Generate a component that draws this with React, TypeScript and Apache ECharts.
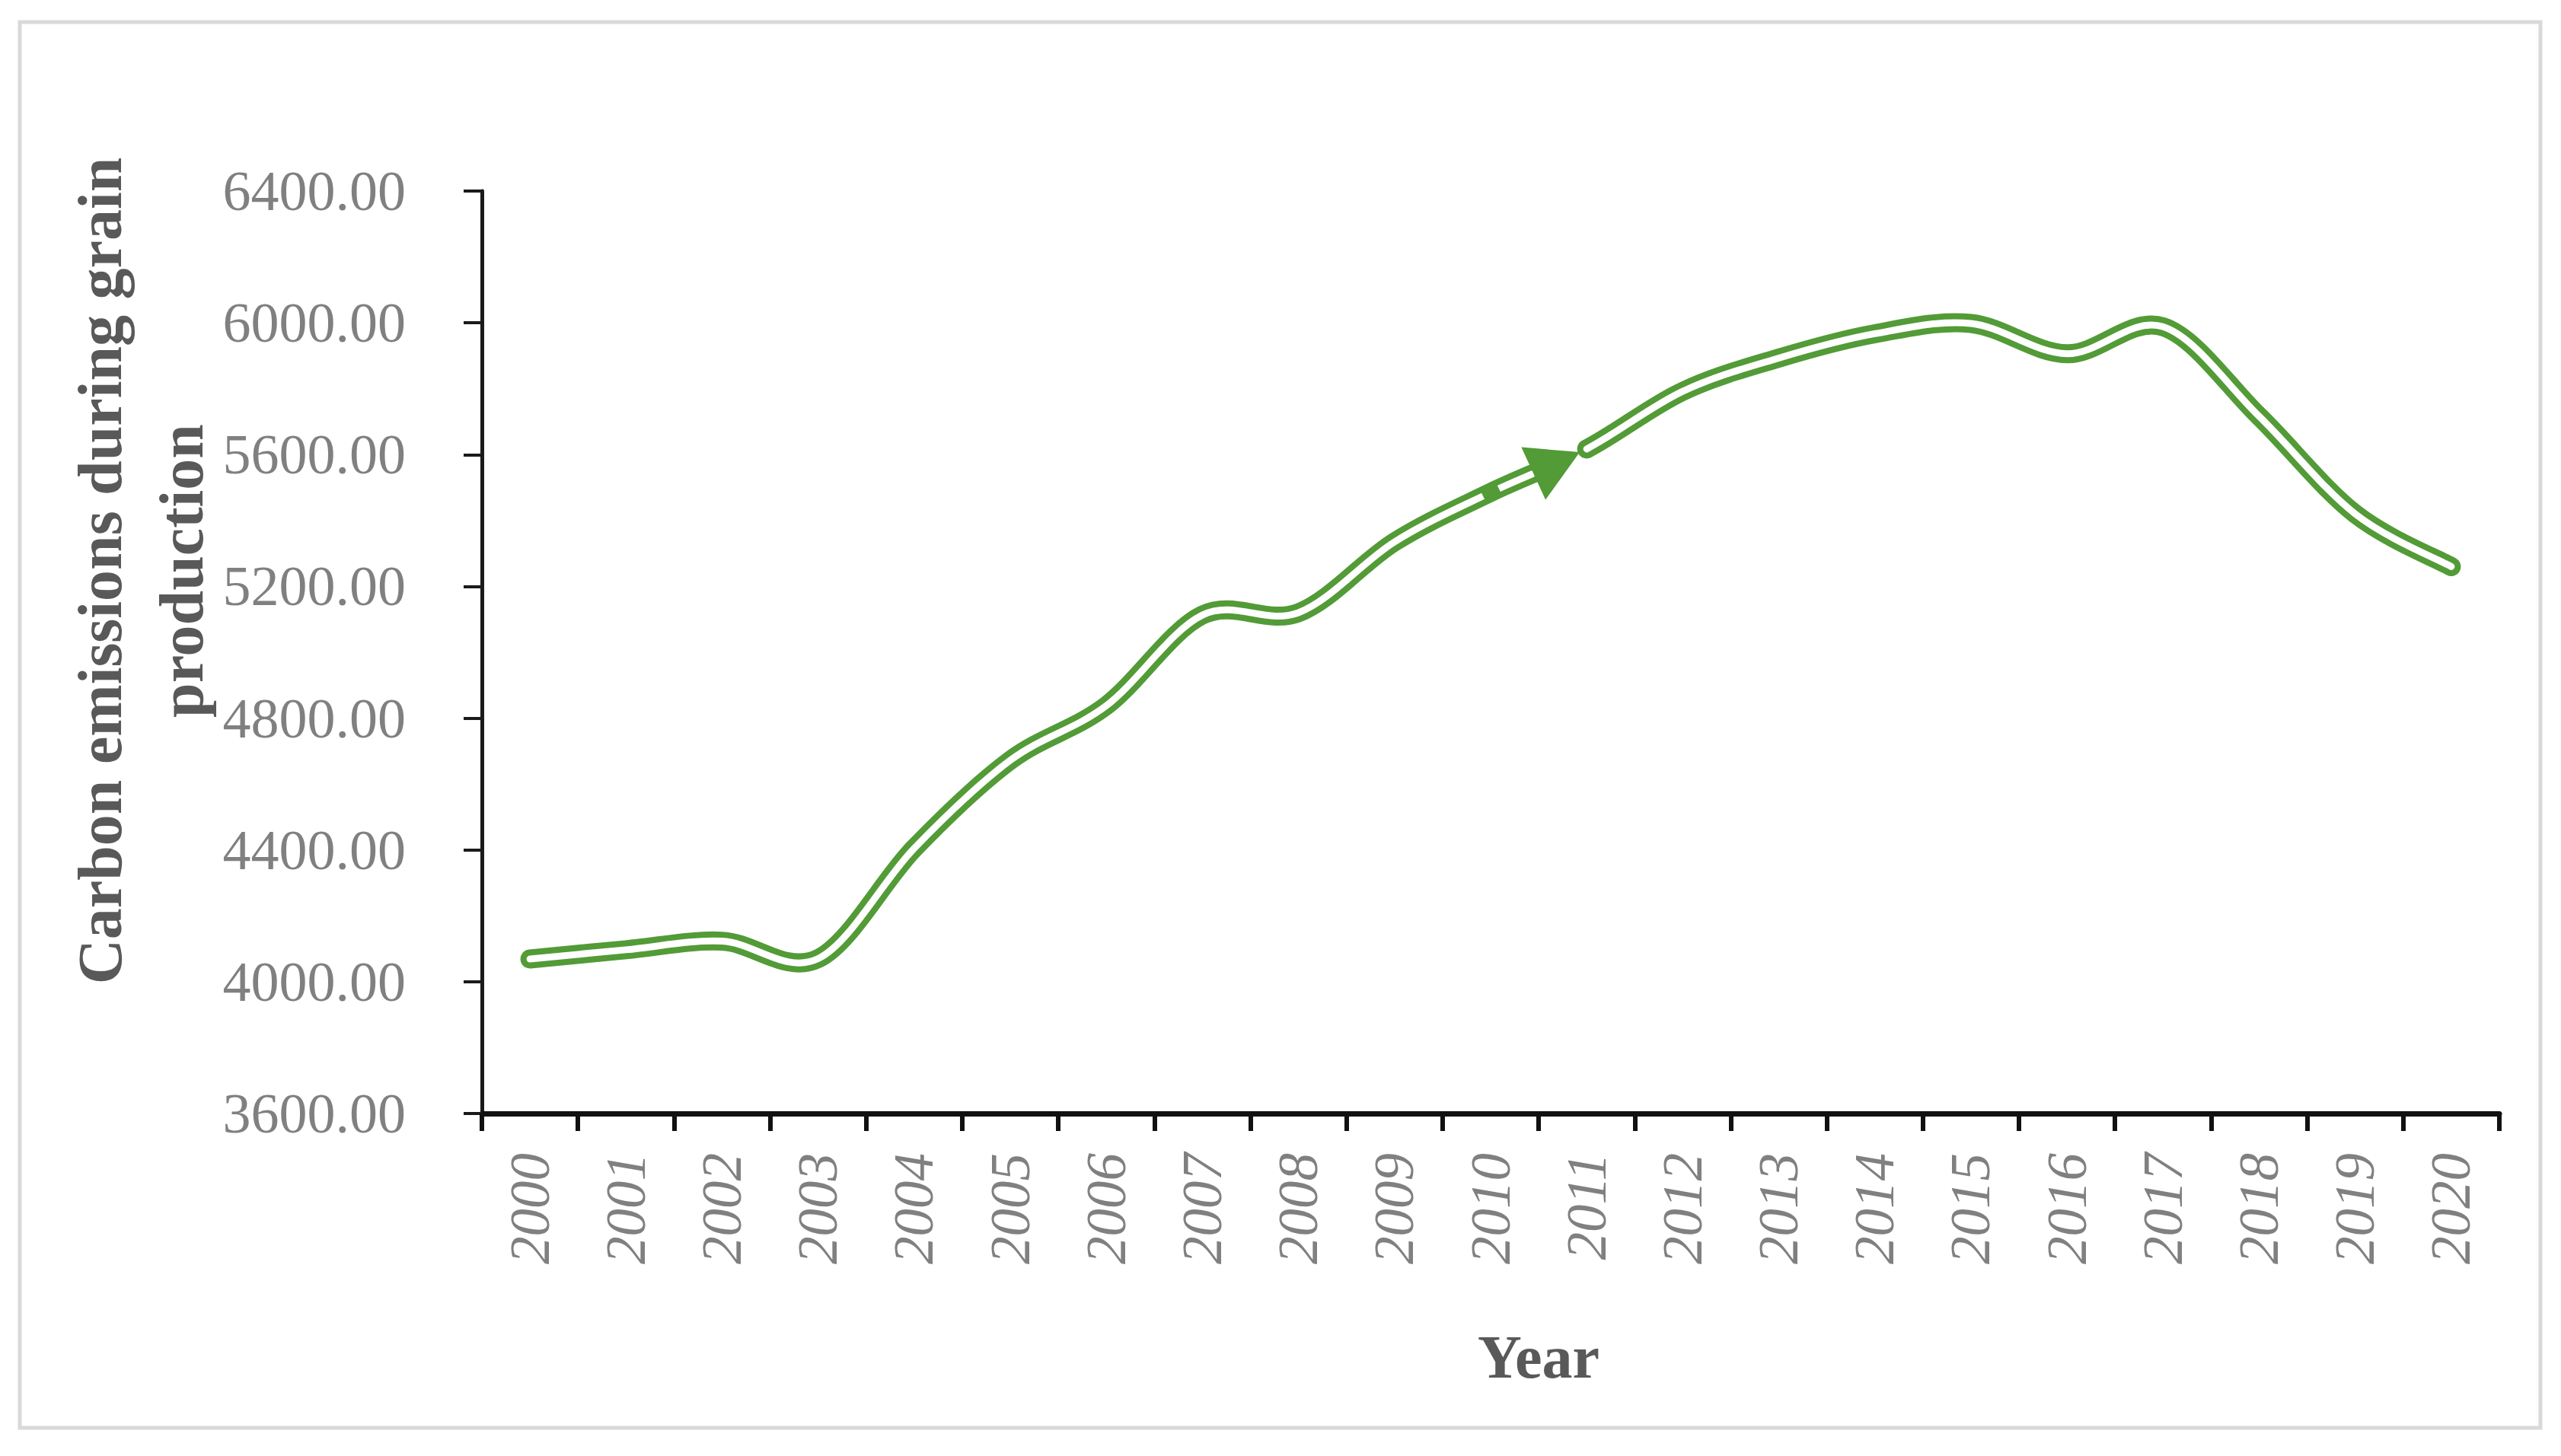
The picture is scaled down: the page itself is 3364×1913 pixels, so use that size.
import React, { useEffect, useRef } from "react";
import * as echarts from "echarts";

const years = ["2000","2001","2002","2003","2004","2005","2006","2007","2008","2009","2010","2011","2012","2013","2014","2015","2016","2017","2018","2019","2020"];
const emissions = [4069, 4097, 4123, 4070, 4405, 4672, 4838, 5113, 5120, 5335, 5485, 5617, 5792, 5893, 5967, 5998, 5906, 5988, 5716, 5420, 5260];
const yMin = 3600;
const yMax = 6400;
const yStep = 400;
const xTitle = "Year";
const yTitle = "Carbon emissions during grain\nproduction";
const arrowSegment = 10; // segment 2010 -> 2011 ends with an arrowhead

const GREEN = "#529b37";
const FONT = "'Liberation Serif', 'DejaVu Serif', serif";

type P = number[];
const lerp = (a: P, b: P, t: number): P => [a[0] + (b[0] - a[0]) * t, a[1] + (b[1] - a[1]) * t];

function bezier(pts: P[]) {
  const n = pts.length;
  const segs: P[][] = [];
  for (let i = 0; i < n - 1; i++) {
    const p0 = pts[i];
    const p1 = pts[i + 1];
    const pm = pts[Math.max(0, i - 1)];
    const pp = pts[Math.min(n - 1, i + 2)];
    const c1 = [p0[0] + (p1[0] - pm[0]) / 6, p0[1] + (p1[1] - pm[1]) / 6];
    const c2 = [p1[0] - (pp[0] - p0[0]) / 6, p1[1] - (pp[1] - p0[1]) / 6];
    segs.push([p0, c1, c2, p1]);
  }
  return segs;
}

function pointAt(s: P[], t: number): P {
  const a = lerp(s[0], s[1], t), b = lerp(s[1], s[2], t), c = lerp(s[2], s[3], t);
  const d = lerp(a, b, t), e = lerp(b, c, t);
  return lerp(d, e, t);
}

function splitFirst(s: P[], t: number): P[] {
  const a = lerp(s[0], s[1], t), b = lerp(s[1], s[2], t), c = lerp(s[2], s[3], t);
  const d = lerp(a, b, t), e = lerp(b, c, t);
  const f = lerp(d, e, t);
  return [s[0], a, d, f];
}

function pathOf(segs: P[][]) {
  if (!segs.length) return "";
  let d = `M${segs[0][0][0]},${segs[0][0][1]}`;
  for (const s of segs) d += ` C${s[1][0]},${s[1][1]} ${s[2][0]},${s[2][1]} ${s[3][0]},${s[3][1]}`;
  return d;
}

function doubleLine(d: string) {
  return [
    { type: "path", shape: { pathData: d }, style: { fill: "none", stroke: GREEN, lineWidth: 25, lineCap: "round", lineJoin: "round" } },
    { type: "path", shape: { pathData: d }, style: { fill: "none", stroke: "#ffffff", lineWidth: 9, lineCap: "round", lineJoin: "round" } },
  ];
}

function renderLine(params: any, api: any) {
  if (params.dataIndex !== 0) return null;
  const pts: P[] = emissions.map((v, i) => api.coord([i, v]));
  const segs = bezier(pts);
  const arrowSeg = segs[arrowSegment];
  const end = arrowSeg[3];
  let t = 1;
  while (t > 0) {
    const q = pointAt(arrowSeg, t);
    if (Math.hypot(end[0] - q[0], end[1] - q[1]) >= 78) break;
    t -= 0.005;
  }
  const cut = splitFirst(arrowSeg, t);
  const B = cut[3];
  const dx = end[0] - B[0], dy = end[1] - B[1];
  const L = Math.hypot(dx, dy);
  const ux = dx / L, uy = dy / L;
  const nx = -uy, ny = ux;
  const tip = [end[0] - ux * 10, end[1] - uy * 10];
  const base = [tip[0] - ux * 67, tip[1] - uy * 67];

  const piece1 = pathOf([...segs.slice(0, arrowSegment), cut]);
  const piece2 = pathOf(segs.slice(arrowSegment + 1));

  // solid patch at the start of the arrowed segment
  const p10 = pts[arrowSegment];
  const pPrev = pts[arrowSegment - 1];
  const pNext = pts[arrowSegment + 1];
  const tx = pNext[0] - pPrev[0], ty = pNext[1] - pPrev[1];
  const tl = Math.hypot(tx, ty);
  const vx = tx / tl, vy = ty / tl;

  return {
    type: "group",
    children: [
      ...doubleLine(piece1),
      ...doubleLine(piece2),
      {
        type: "line",
        shape: { x1: p10[0] - vx * 11, y1: p10[1] - vy * 11, x2: p10[0] + vx * 12, y2: p10[1] + vy * 12 },
        style: { stroke: GREEN, lineWidth: 11, lineCap: "butt" },
      },
      {
        type: "polygon",
        shape: {
          points: [tip, [base[0] + nx * 38, base[1] + ny * 38], [base[0] - nx * 38, base[1] - ny * 38]],
        },
        style: { fill: GREEN },
      },
    ],
  };
}

export default function App() {
  const ref = useRef<HTMLDivElement>(null);
  useEffect(() => {
    if (!ref.current) return;
    const chart = echarts.init(ref.current, null, { renderer: "svg" });
    chart.setOption({
      animation: false,
      backgroundColor: "#ffffff",
      grid: { left: 633, right: 81, top: 251, bottom: 450, containLabel: false },
      xAxis: {
        type: "category",
        data: years,
        boundaryGap: true,
        axisLine: { show: true, lineStyle: { color: "#111111", width: 7 } },
        axisTick: { show: true, interval: 0, alignWithLabel: false, length: 23, lineStyle: { color: "#111111", width: 6 } },
        axisLabel: {
          interval: 0,
          rotate: 90,
          margin: 52,
          color: "#808080",
          fontFamily: FONT,
          fontStyle: "italic",
          fontSize: 73,
        },
        splitLine: { show: false },
      },
      yAxis: {
        type: "value",
        min: yMin,
        max: yMax,
        interval: yStep,
        axisLine: { show: true, lineStyle: { color: "#1a1a1a", width: 5 } },
        axisTick: { show: true, length: 24, lineStyle: { color: "#1a1a1a", width: 4 } },
        axisLabel: {
          margin: 100,
          color: "#808080",
          fontFamily: FONT,
          fontSize: 74,
          formatter: (v: number) => v.toFixed(2),
        },
        splitLine: { show: false },
      },
      series: [
        {
          type: "custom",
          coordinateSystem: "cartesian2d",
          data: emissions.map((v, i) => [i, v]),
          encode: { x: 0, y: 1 },
          renderItem: renderLine,
          clip: false,
          z: 3,
        },
      ],
      graphic: [
        {
          type: "rect",
          shape: { x: 26, y: 29, width: 3311, height: 1847 },
          style: { fill: "none", stroke: "#d9d9d9", lineWidth: 5 },
          silent: true,
        },
        {
          type: "text",
          x: 185,
          y: 750,
          rotation: Math.PI / 2,
          style: {
            text: yTitle,
            fill: "#595959",
            font: `bold 82px ${FONT}`,
            align: "center",
            verticalAlign: "middle",
            lineHeight: 107,
          },
        },
        {
          type: "text",
          x: 2021,
          y: 1783,
          style: {
            text: xTitle,
            fill: "#595959",
            font: `bold 80px ${FONT}`,
            align: "center",
            verticalAlign: "middle",
          },
        },
      ],
    });
    return () => chart.dispose();
  }, []);
  return (
    <div
      ref={ref}
      style={{ position: "fixed", left: 0, top: 0, width: 3364, height: 1913, background: "#fff" }}
    />
  );
}
